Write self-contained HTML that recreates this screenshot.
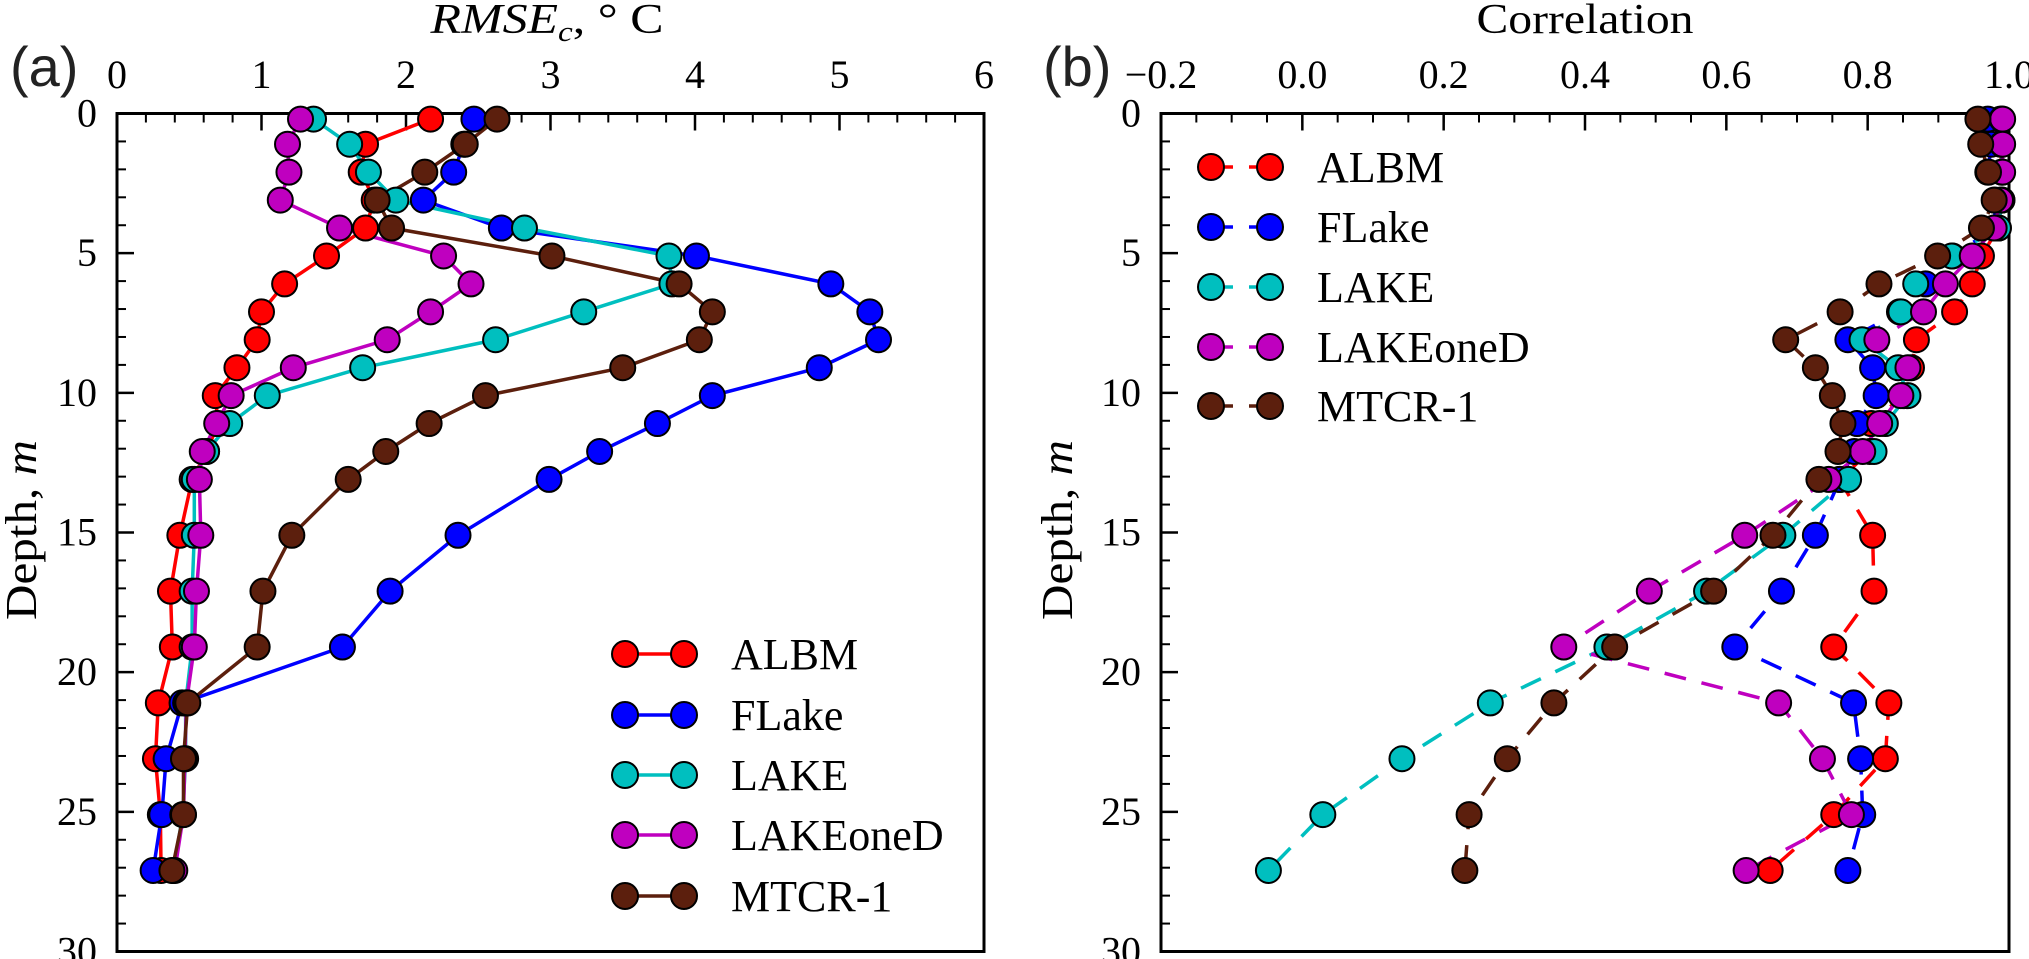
<!DOCTYPE html>
<html><head><meta charset="utf-8"><style>
body{margin:0;background:#fff}
svg{display:block;font-family:"Liberation Serif",serif}
</style></head><body>
<svg id="fig" width="2029" height="959" viewBox="0 0 2029 959" xmlns="http://www.w3.org/2000/svg"></svg>
<script>
const depths=[0.2,1.1,2.1,3.1,4.1,5.1,6.1,7.1,8.1,9.1,10.1,11.1,12.1,13.1,15.1,17.1,19.1,21.1,23.1,25.1,27.1];
const seriesNames=["ALBM","FLake","LAKE","LAKEoneD","MTCR-1"];
const seriesColors=["#ff0000","#0000ff","#00bfbf","#bf00bf","#5c1f0d"];
const rmseALBM=[2.17,1.72,1.69,1.78,1.72,1.45,1.16,1.00,0.97,0.83,0.68,0.70,0.62,0.52,0.435,0.37,0.383,0.286,0.266,0.30,0.305];
const rmseFLake=[2.47,2.40,2.33,2.12,2.66,4.01,4.94,5.21,5.27,4.86,4.12,3.74,3.34,2.99,2.36,1.89,1.56,0.45,0.34,0.31,0.25];
const rmseLAKE=[1.36,1.61,1.74,1.93,2.82,3.82,3.84,3.23,2.62,1.70,1.04,0.78,0.62,0.535,0.535,0.52,0.52,0.475,0.475,0.455,0.39];
const rmseLAKEoneD=[1.27,1.18,1.19,1.13,1.54,2.26,2.45,2.17,1.87,1.22,0.79,0.69,0.59,0.57,0.58,0.55,0.535,0.48,0.47,0.46,0.40];
const rmseMTCR=[2.63,2.41,2.13,1.80,1.90,3.01,3.89,4.12,4.03,3.50,2.55,2.16,1.86,1.60,1.21,1.01,0.97,0.49,0.46,0.46,0.38];
const corALBM=[0.988,0.988,0.99,0.99,0.985,0.961,0.948,0.923,0.869,0.862,0.85,0.805,0.803,0.76,0.807,0.809,0.752,0.830,0.825,0.752,0.662];
const corFLake=[0.970,0.975,0.970,0.98,0.98,0.92,0.882,0.845,0.772,0.807,0.812,0.785,0.781,0.761,0.726,0.678,0.612,0.780,0.790,0.793,0.772];
const corLAKE=[0.99,0.99,0.99,0.99,0.985,0.919,0.868,0.847,0.792,0.843,0.857,0.825,0.809,0.773,0.680,0.572,0.431,0.266,0.141,0.029,-0.048];
const corLAKEoneD=[0.991,0.991,0.991,0.988,0.979,0.948,0.910,0.879,0.813,0.857,0.847,0.817,0.793,0.745,0.626,0.491,0.370,0.674,0.736,0.777,0.628];
const corMTCR=[0.956,0.96,0.971,0.979,0.961,0.899,0.816,0.761,0.684,0.726,0.750,0.765,0.758,0.731,0.666,0.582,0.442,0.356,0.290,0.236,0.230];
const rmseTicks=[0,1,2,3,4,5,6];
const corTicks=[-0.2,0.0,0.2,0.4,0.6,0.8,1.0];
const depthTicks=[0,5,10,15,20,25,30];

const NS="http://www.w3.org/2000/svg";
const svg=document.getElementById('fig');
function el(tag,attrs,parent){const e=document.createElementNS(NS,tag);for(const k in attrs)e.setAttribute(k,attrs[k]);(parent||svg).appendChild(e);return e;}
const top0=113.5, bot0=951.5;
function yScale(d){return top0+(d-0)/30*(bot0-top0);}

function panel(opts){
  const g=el('g',{});
  
  
  const L=opts.x0,R=opts.x1;
  const xs=v=>L+(v-opts.min)/(opts.max-opts.min)*(R-L);
  for(let v=opts.min;v<=opts.max+1e-9;v+=opts.minor){el('line',{x1:xs(v),x2:xs(v),y1:top0,y2:top0+9,stroke:'#000','stroke-width':2},g);}
  opts.ticks.forEach(v=>{
    el('line',{x1:xs(v),x2:xs(v),y1:top0,y2:top0+17,stroke:'#000','stroke-width':2.5},g);
    const t=el('text',{x:xs(v),y:88,'text-anchor':'middle','font-size':40},g);
    
    
    t.textContent=opts.fmt(v);
  });
  for(let d=0;d<=30;d++){el('line',{x1:L,x2:L+(d%5==0?17:9),y1:yScale(d),y2:yScale(d),stroke:'#000','stroke-width':d%5==0?2.5:2},g);}
  depthTicks.forEach(d=>{
    const t=el('text',{x:L-20,y:yScale(d)+13,'text-anchor':'end','font-size':40},g);
    
    
    t.textContent=d;
  });
  const fr=el('rect',{x:L,y:top0,width:R-L,height:bot0-top0,fill:'none',stroke:'#000','stroke-width':3},g);
  
  
  opts.data.forEach((arr,i)=>{
    const pts=arr.map((v,j)=>xs(v)+','+yScale(depths[j])).join(' ');
    const pl=el('polyline',{points:pts,fill:'none',stroke:seriesColors[i],'stroke-width':3.5},g);
    if(opts.dash)pl.setAttribute('stroke-dasharray','22 16');
    
    
  });
  opts.data.forEach((arr,i)=>{
    arr.forEach((v,j)=>{
      const c=el('circle',{cx:xs(v),cy:yScale(depths[j]),r:12.5,fill:seriesColors[i],stroke:'#000','stroke-width':2},g);
      
      
    });
  });
  seriesNames.forEach((n,i)=>{
    const y=opts.legY[i];
    const lg=el('g',{},g);
    
    
    const ln=el('line',{x1:opts.legX,x2:opts.legX+59,y1:y,y2:y,stroke:seriesColors[i],'stroke-width':3.5},lg);
    if(opts.dash)ln.setAttribute('stroke-dasharray','22 16');
    el('circle',{cx:opts.legX,cy:y,r:13,fill:seriesColors[i],stroke:'#000','stroke-width':2},lg);
    el('circle',{cx:opts.legX+59,cy:y,r:13,fill:seriesColors[i],stroke:'#000','stroke-width':2},lg);
    const t=el('text',{x:opts.legX+106,y:y+15,'font-size':44},lg);
    t.textContent=n;
  });
  const yl=el('text',{x:0,y:0,'font-size':44,'text-anchor':'middle',textLength:180,lengthAdjust:'spacingAndGlyphs',transform:`translate(${opts.ylx},530) rotate(-90)`},g);
  
  
  yl.innerHTML='Depth, <tspan font-style="italic">m</tspan>';
  const xl=el('text',{x:opts.xlx,y:33,'font-size':42,'text-anchor':'middle',textLength:opts.xlw,lengthAdjust:'spacingAndGlyphs'},g);
  
  
  xl.innerHTML=opts.xlabel;
  const pl=el('text',{x:opts.plx,y:86,'font-size':56,'font-family':'Liberation Sans, sans-serif',fill:'#222'},g);
  
  
  pl.textContent=opts.plabel;
}
panel({name:'panel-a-rmse',x0:117,x1:984,min:0,max:6,minor:0.2,ticks:rmseTicks,fmt:v=>String(v),
  data:[rmseALBM,rmseFLake,rmseLAKE,rmseLAKEoneD,rmseMTCR],dash:false,
  legX:625,legY:[654,715,775,835,896],ylx:36,xlx:547,xlw:233,
  xlabel:'<tspan font-style="italic">RMSE</tspan><tspan font-style="italic" font-size="28" dy="8">c</tspan><tspan dy="-8">, ° C</tspan>',plx:10,plabel:'(a)'});
panel({name:'panel-b-correlation',x0:1161,x1:2009,min:-0.2,max:1.0,minor:0.05,ticks:corTicks,fmt:v=>(v<0?'\u22120.2':v.toFixed(1)),
  data:[corALBM,corFLake,corLAKE,corLAKEoneD,corMTCR],dash:true,
  legX:1211,legY:[167,227,287,347,406],ylx:1072,xlx:1585,xlw:217,
  xlabel:'Correlation',plx:1043,plabel:'(b)'});
</script>
</body></html>
